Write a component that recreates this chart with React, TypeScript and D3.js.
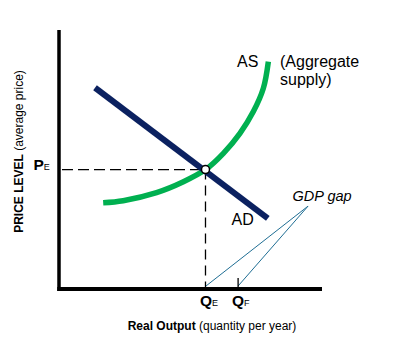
import React from "react";
import * as d3 from "d3";

// Data (abstract units: quantity 0-100, price level 0-100)
const asCurve: [number, number][] = [
  [16.8, 33.3], [24.4, 34.1], [37.1, 37.2], [47.3, 41.4], [55.7, 46.1],
  [62.5, 52.4], [68.8, 60.1], [73.9, 68.5], [77.7, 77.5], [79.6, 87.8],
];
const adLine: [number, number][] = [[13.7, 77.7], [79.4, 27.3]];
const equilibrium: [number, number] = [55.7, 46.1];
const qFull = 68.1;
const gapLabelPoint: [number, number] = [94.7, 32.0];

const W = 401, H = 342;
const FONT = "'Liberation Sans', Arial, Helvetica, sans-serif";

export default function App() {
  const x = d3.scaleLinear().domain([0, 100]).range([59, 322]);
  const y = d3.scaleLinear().domain([0, 100]).range([289, 30]);
  const line = d3.line<[number, number]>().x(d => x(d[0])).y(d => y(d[1]));
  const curve = d3.line<[number, number]>().x(d => x(d[0])).y(d => y(d[1])).curve(d3.curveCatmullRom.alpha(0.5));

  const ex = x(equilibrium[0]);
  const ey = y(equilibrium[1]);
  const x0 = x(0), y0 = y(0);
  const gx = x(gapLabelPoint[0]), gy = y(gapLabelPoint[1]);
  const qfx = x(qFull);

  return (
    <div style={{ position: "fixed", left: 0, top: 0 }}>
      <svg width={W} height={H} viewBox={`0 0 ${W} ${H}`} style={{ display: "block", background: "#fff" }} fontFamily={FONT}>
        {/* dashed guides */}
        <line x1={x0 + 3} y1={ey} x2={ex} y2={ey} stroke="#000" strokeWidth={1.3} strokeDasharray="11,5" />
        <line x1={ex} y1={ey} x2={ex} y2={y0} stroke="#000" strokeWidth={1.3} strokeDasharray="10,6" />

        {/* AS curve */}
        <path d={curve(asCurve) || ""} fill="none" stroke="#00b050" strokeWidth={5.5} />
        {/* AD line */}
        <path d={line(adLine) || ""} fill="none" stroke="#0b2160" strokeWidth={6} />

        {/* equilibrium */}
        <circle cx={ex} cy={ey} r={4} fill="#fff" stroke="#000" strokeWidth={1.5} />

        {/* GDP gap pointers */}
        <line x1={gx} y1={gy} x2={ex + 0.5} y2={y0 - 3} stroke="#1f6e94" strokeWidth={1} />
        <line x1={gx} y1={gy} x2={qfx} y2={y0 - 3} stroke="#1f6e94" strokeWidth={1} />
        <line x1={qfx} y1={y0 - 11} x2={qfx} y2={y0} stroke="#000" strokeWidth={1.3} />

        {/* axes */}
        <line x1={x0} y1={y(100)} x2={x0} y2={y0 + 2} stroke="#000" strokeWidth={3.5} />
        <line x1={x0 - 1.75} y1={y0} x2={x(100)} y2={y0} stroke="#000" strokeWidth={4} />

        {/* labels */}
        <text x={237} y={67} fontSize={16} fill="#000">AS</text>
        <text x={280} y={67} fontSize={16} fill="#000">(Aggregate</text>
        <text x={280} y={84.5} fontSize={16} fill="#000">supply)</text>
        <text x={231.5} y={225} fontSize={16} fill="#000">AD</text>
        <text x={292.5} y={201} fontSize={14.5} fontStyle="italic" fill="#000">GDP gap</text>

        <text x={33.5} y={169.5} fontSize={15.5} fontWeight="bold" fill="#000">P<tspan fontSize={9} fontWeight="normal">E</tspan></text>
        <text x={200} y={305.5} fontSize={15.5} fontWeight="bold" fill="#000">Q<tspan fontSize={9} fontWeight="normal">E</tspan></text>
        <text x={232} y={305.5} fontSize={15.5} fontWeight="bold" fill="#000">Q<tspan fontSize={9} fontWeight="normal">F</tspan></text>

        <text x={212} y={330} fontSize={12} textAnchor="middle" fill="#000">
          <tspan fontWeight="bold">Real Output</tspan> (quantity per year)
        </text>
        <text transform="translate(23,151.5) rotate(-90)" fontSize={12} textAnchor="middle" fill="#000">
          <tspan fontWeight="bold">PRICE LEVEL</tspan> (average price)
        </text>
      </svg>
    </div>
  );
}
